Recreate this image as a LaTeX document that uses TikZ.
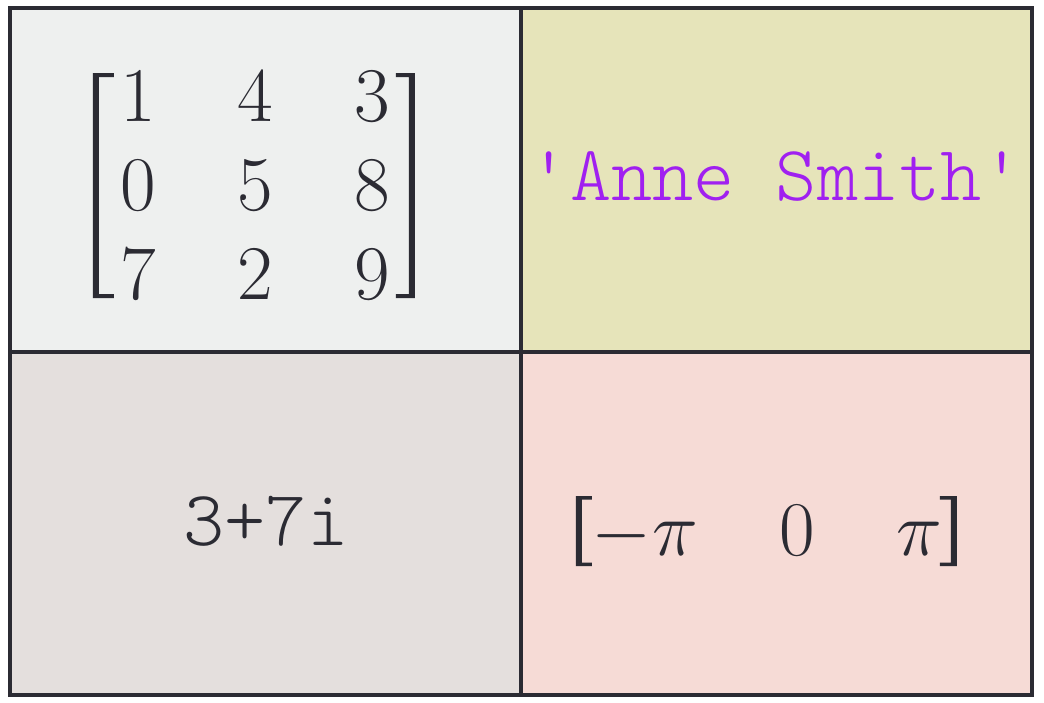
\RequirePackage{fix-cm}
\documentclass[tikz,border=0pt]{standalone}
\usepackage{amsmath}
\usepackage{fontspec}
\setmonofont{Latin Modern Mono Light}
\definecolor{inkgray}{HTML}{2B2B33}
\definecolor{cellmat}{HTML}{EEF0EF}
\definecolor{cellstr}{HTML}{E6E4BA}
\definecolor{cellcpx}{HTML}{E4DFDD}
\definecolor{cellvec}{HTML}{F6DBD6}
\definecolor{strpurple}{HTML}{A020F0}
\tikzset{
  mathtxt/.style={inkgray, inner sep=0pt, font=\fontsize{22}{25.3}\selectfont},
  monotxt/.style={inkgray, anchor=base, inner sep=0pt, font=\fontsize{22.3}{26}\selectfont\ttfamily},
  gridline/.style={inkgray, line width=0.95pt},
}
\begin{document}
\begin{tikzpicture}[x=0.01cm, y=-0.01cm]
    \useasboundingbox (0,0) rectangle (1044,702);
    \fill[cellmat] (10,8) rectangle (521,352);
    \fill[cellstr] (521,8) rectangle (1032,352);
    \fill[cellcpx] (10,352) rectangle (521,695);
    \fill[cellvec] (521,352) rectangle (1032,695);

    \setlength\arraycolsep{11.6pt}
    \node[mathtxt] (mat) at (255,193) {$\begin{matrix}1&4&3\\0&5&8\\7&2&9\end{matrix}$};
    \node[monotxt, strpurple] (name) at (776,200) {'Anne Smith'};
    \node[monotxt] (cpx) at (266,545) {3+7i};
    \node[mathtxt] (vec) at (767,538) {$\begin{matrix}-\pi&0&\pi\end{matrix}$};

    % brackets
    \fill[inkgray] (93,73) -- (114,73) -- (114,77) -- (99,77) -- (99,294) -- (114,294) -- (114,298) -- (93,298) -- cycle;
    \fill[inkgray] (415,73) -- (396,73) -- (396,77) -- (409,77) -- (409,294) -- (396,294) -- (396,298) -- (415,298) -- cycle;
    \fill[inkgray] (576,496) -- (592,496) -- (592,499.5) -- (582,499.5) -- (582,562.5) -- (592,562.5) -- (592,566) -- (576,566) -- cycle;
    \fill[inkgray] (957,496) -- (940,496) -- (940,499.5) -- (951,499.5) -- (951,562.5) -- (940,562.5) -- (940,566) -- (957,566) -- cycle;

    \draw[gridline] (10,8) rectangle (1032,695);
    \draw[gridline] (521,8) -- (521,695);
    \draw[gridline] (10,352) -- (1032,352);
\end{tikzpicture}
\end{document}
